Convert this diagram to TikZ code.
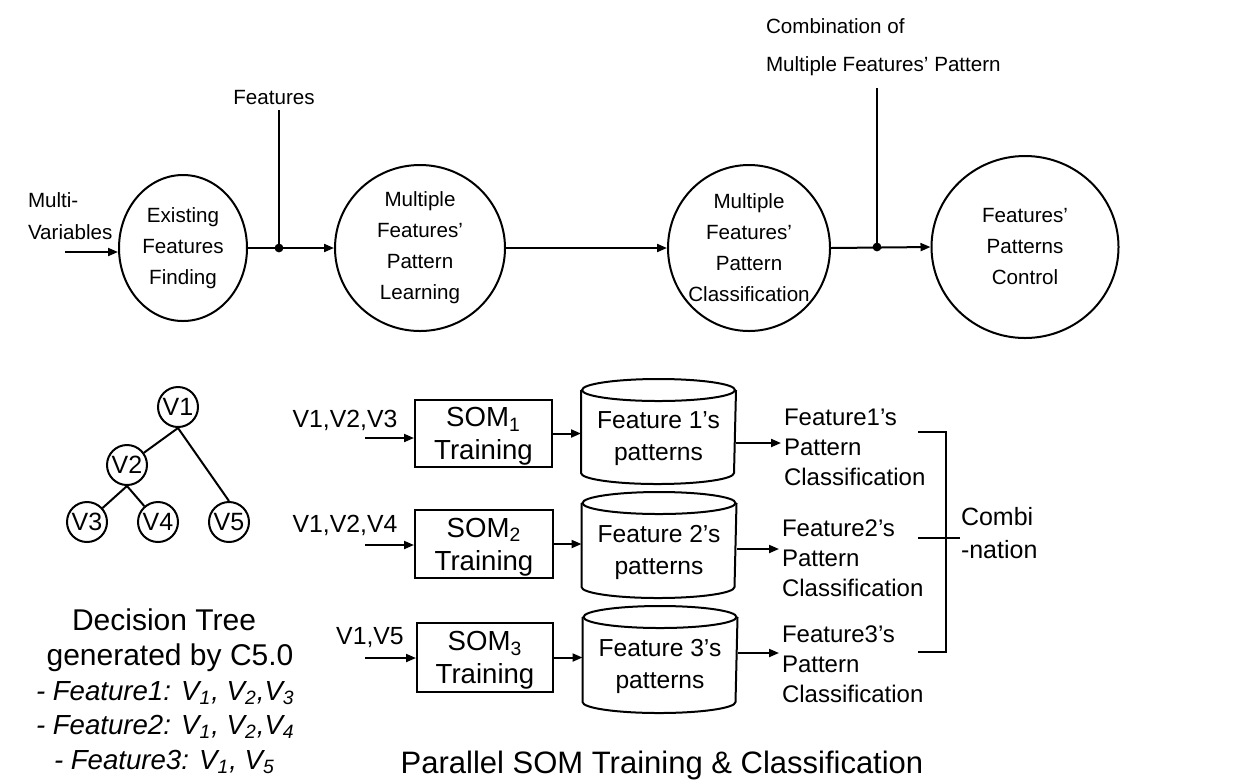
\documentclass[tikz,border=0pt]{standalone}
\usepackage{fontspec}
\setmainfont{Liberation Sans}
\usetikzlibrary{shapes.geometric,arrows.meta,calc}
\newcommand\fs[2]{\fontsize{#1}{#2}\selectfont}
\newcommand\drawcyl[1]{%
  \draw ($(#1.north west)+(0,-11)$) -- ($(#1.south west)+(0,11)$)
        arc[start angle=180, end angle=360, x radius=76.5, y radius=11]
        -- ($(#1.north east)+(0,-11)$);
  \draw ($(#1.north)+(0,-11)$) ellipse[x radius=76.5, y radius=11];}
\begin{document}
\begin{tikzpicture}[x=0.5pt,y=0.5pt, line width=1pt,
  arr/.style={-{Triangle[length=5pt,width=4pt]}},
  proc/.style={draw, ellipse, inner sep=0pt},
  ptxt/.style={align=center, font=\fs{10.3}{15.5}},
  toplab/.style={align=left, font=\fs{10.3}{16}, inner sep=0pt},
  tnode/.style={draw, circle, minimum size=20pt, inner sep=0pt, font=\fs{12.5}{14}},
  sombox/.style={draw, rectangle, inner sep=0pt},
  somtxt/.style={align=center, font=\fs{13.8}{16.5}},
  cylbody/.style={rectangle, inner sep=0pt, minimum width=76.5pt},
  cyltxt/.style={align=center, font=\fs{12.3}{16}},
  vlab/.style={font=\fs{12.4}{14}, inner sep=0pt},
  clab/.style={align=left, font=\fs{12}{15}, inner sep=0pt, anchor=west},
  feat/.style={anchor=west, inner sep=0pt, font=\fs{13.8}{17}\itshape},
]
\useasboundingbox (0,0) rectangle (1234,-783);

% ---------- top process chain ----------
\node[proc, minimum width=64pt, minimum height=73pt,
      label={[ptxt]center:Existing\\Features\\Finding}] (c1) at (183,-248) {};
\node[proc, minimum width=85pt, minimum height=83pt,
      label={[ptxt]center:Multiple\\Features'\\Pattern\\Learning}] (c2) at (420,-248) {};
\node[proc, minimum width=81pt, minimum height=83pt,
      label={[ptxt]center:Multiple\\Features'\\Pattern\\Classification}] (c3) at (749,-248) {};
\node[proc, minimum width=93.5pt, minimum height=91pt,
      label={[ptxt]center:Features'\\Patterns\\Control}] (c4) at (1025,-247) {};

\node[toplab, anchor=west] (mv) at (27,-216) {Multi-\\Variables};
\coordinate (inA) at (65,-252);
\draw[arr] (inA) -- (inA -| c1.west);

\node[font=\fs{10.3}{12}, inner sep=0pt] (feats) at (274,-98) {Features};
\coordinate (j1) at (279,-248);
\draw[arr] (c1.east) -- (c2.west);
\draw (feats.south -| j1) ++(0,-4) -- (j1);
\fill (j1) circle[radius=2.2pt];

\draw[arr] (c2.east) -- (c3.west);

\node[toplab, anchor=west, font=\fs{10.3}{19}] (comb) at (765,-47)
  {Combination of\\Multiple Features' Pattern};
\coordinate (j2) at (877,-247);
\coordinate (t2) at (877,-88);
\draw[arr] (c3.east) -- (c4.west);
\draw (t2) -- (j2);
\fill (j2) circle[radius=2.2pt];

% ---------- decision tree ----------
\node[tnode] (v1) at (178,-407) {V1};
\node[tnode] (v2) at (127,-465) {V2};
\node[tnode] (v3) at (87,-522) {V3};
\node[tnode] (v4) at (158,-522) {V4};
\node[tnode] (v5) at (229,-522) {V5};
\draw (v1.south) -- (v2);
\draw (v1.south) -- (v5.north);
\draw (v2.south) -- (v3);
\draw (v2.south) -- (v4);

\node[font=\fs{15}{18}, inner sep=0pt] (dt1) at (164,-620) {Decision Tree};
\node[font=\fs{15}{18}, inner sep=0pt] (dt2) at (170,-658) {generated by C5.0};
\node[feat] (f1) at (35,-693) {- Feature1: V\textsubscript{1}, V\textsubscript{2},V\textsubscript{3}};
\node[feat] (f2) at (35,-727) {- Feature2: V\textsubscript{1}, V\textsubscript{2},V\textsubscript{4}};
\node[feat] (f3) at (53,-762) {- Feature3: V\textsubscript{1}, V\textsubscript{5}};

% ---------- SOM rows ----------
\node[sombox, minimum width=68.5pt, minimum height=33.5pt,
      label={[somtxt, yshift=-1.5pt]center:SOM\textsubscript{1}\\Training}] (b1) at (483.5,-433.5) {};
\node[sombox, minimum width=69pt, minimum height=34pt,
      label={[somtxt, yshift=-1.5pt]center:SOM\textsubscript{2}\\Training}] (b2) at (484,-544) {};
\node[sombox, minimum width=68pt, minimum height=34.5pt,
      label={[somtxt, yshift=-1.5pt]center:SOM\textsubscript{3}\\Training}] (b3) at (485,-657.5) {};

\node[cylbody, minimum height=51.5pt,
      label={[cyltxt, yshift=-3.5pt]center:Feature 1's\\patterns}] (cy1) at (658.5,-431.5) {};
\node[cylbody, minimum height=52pt,
      label={[cyltxt, yshift=-3.5pt]center:Feature 2's\\patterns}] (cy2) at (659,-545) {};
\node[cylbody, minimum height=52.5pt,
      label={[cyltxt, yshift=-3.5pt]center:Feature 3's\\patterns}] (cy3) at (660,-659.5) {};
\drawcyl{cy1}
\drawcyl{cy2}
\drawcyl{cy3}

\node[vlab] (l1) at (345,-420) {V1,V2,V3};
\node[vlab] (l2) at (345,-525) {V1,V2,V4};
\node[vlab] (l3) at (370,-638) {V1,V5};
\coordinate (i1) at (365,-438);
\coordinate (i2) at (365,-545);
\coordinate (i3) at (365,-658);
\draw[arr] (i1) -- (i1 -| b1.west);
\draw[arr] (i2) -- (i2 -| b2.west);
\draw[arr] (i3) -- (i3 -| b3.west);

\draw[arr] (b1.east) -- (b1.east -| cy1.west);
\draw[arr] (b2.east) -- (b2.east -| cy2.west);
\draw[arr] (b3.east) -- (b3.east -| cy3.west);

\node[clab] (p1) at (783,-447) {Feature1's\\Pattern\\Classification};
\node[clab] (p2) at (781,-558) {Feature2's\\Pattern\\Classification};
\node[clab] (p3) at (781,-664) {Feature3's\\Pattern\\Classification};
\draw[arr] ([yshift=2pt]p1.west -| cy1.east) -- ([yshift=2pt,xshift=-1pt]p1.west);
\draw[arr] ([yshift=4.5pt]p2.west -| cy2.east) -- ([yshift=4.5pt,xshift=-1pt]p2.west);
\draw[arr] ([yshift=5.5pt]p3.west -| cy3.east) -- ([yshift=5.5pt,xshift=-1pt]p3.west);

% bracket
\coordinate (br1) at (918,-432);
\coordinate (br2) at (946,-432);
\coordinate (br3) at (946,-652);
\coordinate (br4) at (918,-652);
\coordinate (m1) at (918,-538);
\node[clab, font=\fs{12.5}{16.5}] (cmb) at (960,-533.5) {Combi\\-nation};
\draw (br1) -- (br2) -- (br3) -- (br4);
\draw (m1) -- (m1 -| cmb.west);

\node[font=\fs{15.5}{18}, inner sep=0pt] (title) at (662,-765) {Parallel SOM Training \& Classification};
\end{tikzpicture}
\end{document}
